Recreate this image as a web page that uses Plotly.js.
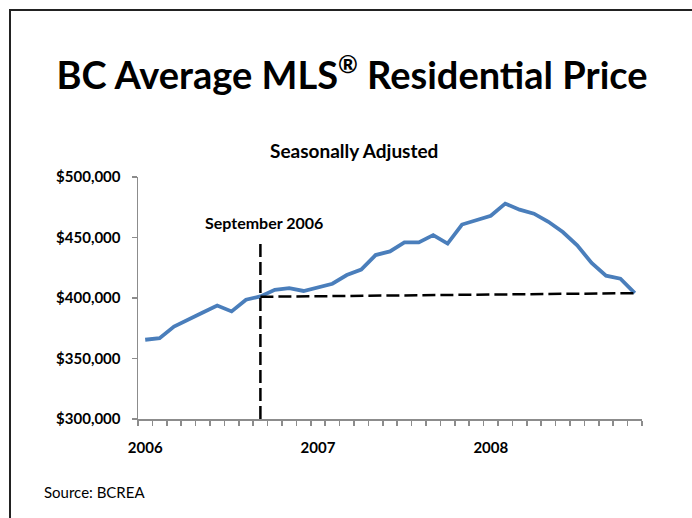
<!DOCTYPE html>
<html>
<head>
<meta charset="utf-8">
<script src="https://cdn.plot.ly/plotly-3.0.1.min.js"></script>
<style>
html,body{margin:0;padding:0;background:#fff;}
#wrap{position:relative;width:692px;height:518px;overflow:hidden;}
#chart{position:absolute;left:0;top:0;width:692px;height:518px;}
#frame{position:absolute;left:9px;top:9px;width:720px;height:560px;border:2px solid #222;pointer-events:none;}
</style>
</head>
<body>
<div id="wrap"><div id="chart"></div><div id="frame"></div></div>
<script>
// Monthly categories Jan 2006 - Nov 2008
const months = [
  "Jan 2006","Feb 2006","Mar 2006","Apr 2006","May 2006","Jun 2006","Jul 2006","Aug 2006","Sep 2006","Oct 2006","Nov 2006","Dec 2006",
  "Jan 2007","Feb 2007","Mar 2007","Apr 2007","May 2007","Jun 2007","Jul 2007","Aug 2007","Sep 2007","Oct 2007","Nov 2007","Dec 2007",
  "Jan 2008","Feb 2008","Mar 2008","Apr 2008","May 2008","Jun 2008","Jul 2008","Aug 2008","Sep 2008","Oct 2008","Nov 2008"
];
// Seasonally adjusted average price
const prices = [
  365500, 366800, 376400, 382500, 388000, 393800, 388900, 398600, 401300, 406800, 408200, 405800,
  408500, 411800, 419000, 423500, 435500, 438500, 446000, 446000, 452000, 445000, 460700, 464500,
  468000, 478000, 473000, 469700, 463000, 454500, 443500, 429000, 418500, 416000, 404000
];
// Reference (September 2006) dashed lines
const refMonths = ["Sep 2006", "Nov 2008"];
const refValues = [401000, 404000];
const markerMonth = "Sep 2006";
const markerRange = [300000, 446000];
// Axis labels
const yearLabels = ["2006", "2007", "2008"];
const yearMonths = ["Jan 2006", "Jan 2007", "Jan 2008"];
const yTicks = [300000, 350000, 400000, 450000, 500000];

const idx = m => months.indexOf(m);
const xs = months.map((m, i) => i);
const boundaries = months.map((m, i) => i - 0.5).concat([months.length - 0.5]);
const FONT = "Lato, 'Open Sans', sans-serif";

// pixel helpers for text placement (plot area: x 138..642, y 177..419)
const PL = 138, PW = 504, PT = 177, PH = 242;
const px = v => (v - PL) / PW;
const py = v => (PT + PH - v) / PH;

const traces = [
  {
    x: xs, y: prices, type: "scatter", mode: "lines",
    line: {color: "#4A7EBB", width: 3.8}, hoverinfo: "skip"
  },
  {
    x: refMonths.map(idx), y: refValues, type: "scatter", mode: "lines",
    line: {color: "#000", width: 2.5, dash: "13px,5px"}, hoverinfo: "skip"
  },
  {
    x: [idx(markerMonth), idx(markerMonth)], y: markerRange, type: "scatter", mode: "lines",
    line: {color: "#000", width: 2.5, dash: "13px,5px"}, hoverinfo: "skip"
  },
  {
    x: xs, y: prices, xaxis: "x2", type: "scatter", mode: "none", hoverinfo: "skip", showlegend: false
  }
];

const layout = {
  width: 692, height: 518,
  margin: {l: PL, r: 692 - PL - PW, t: PT, b: 518 - PT - PH},
  paper_bgcolor: "#fff", plot_bgcolor: "#fff",
  showlegend: false,
  font: {family: FONT, color: "#000"},
  title: {
    text: "<b>BC Average MLS<sup><span style=\"font-size:24px\">®</span></sup> Residential Price</b>",
    font: {family: FONT, size: 38, color: "#000"},
    x: 352 / 692, xref: "container", xanchor: "center",
    y: 1 - 76 / 518, yref: "container", yanchor: "middle"
  },
  xaxis: {
    range: [-0.5, months.length - 0.5],
    tickmode: "array",
    tickvals: yearMonths.map(idx),
    ticktext: yearLabels,
    ticks: "outside", ticklen: 15, tickcolor: "rgba(0,0,0,0)",
    tickfont: {family: FONT, size: 15, color: "#000", weight: "bold"},
    showline: false, showgrid: false, zeroline: false, fixedrange: true
  },
  xaxis2: {
    overlaying: "x", anchor: "y",
    range: [-0.5, months.length - 0.5],
    tickmode: "array", tickvals: boundaries,
    ticks: "outside", ticklen: 5, tickcolor: "#8c8c8c", tickwidth: 1.5,
    showticklabels: false,
    showline: true, linecolor: "#8c8c8c", linewidth: 1.5,
    showgrid: false, zeroline: false, fixedrange: true
  },
  yaxis: {
    range: [300000, 500000],
    tickmode: "array", tickvals: yTicks,
    ticktext: yTicks.map(v => "$" + v.toLocaleString("en-US")),
    ticks: "outside", ticklen: 5, tickcolor: "#8c8c8c", tickwidth: 1.5,
    ticklabelstandoff: 8,
    tickfont: {family: FONT, size: 15, color: "#000", weight: "bold"},
    showline: true, linecolor: "#8c8c8c", linewidth: 1.5,
    showgrid: false, zeroline: false, fixedrange: true
  },
  annotations: [
    {
      text: "<b>Seasonally Adjusted</b>", xref: "paper", yref: "paper",
      x: px(354), y: py(150), xanchor: "center", yanchor: "middle",
      showarrow: false, font: {family: FONT, size: 19, color: "#000"}
    },
    {
      text: "<b>September 2006</b>", xref: "paper", yref: "paper",
      x: px(264), y: py(222), xanchor: "center", yanchor: "middle",
      showarrow: false, font: {family: FONT, size: 16, color: "#000"}
    },
    {
      text: "Source: BCREA", xref: "paper", yref: "paper",
      x: px(42), y: py(492), xanchor: "left", yanchor: "middle",
      showarrow: false, font: {family: FONT, size: 15, color: "#000"}
    }
  ]
};

Plotly.newPlot("chart", traces, layout, {displayModeBar: false, staticPlot: true});
</script>
</body>
</html>
